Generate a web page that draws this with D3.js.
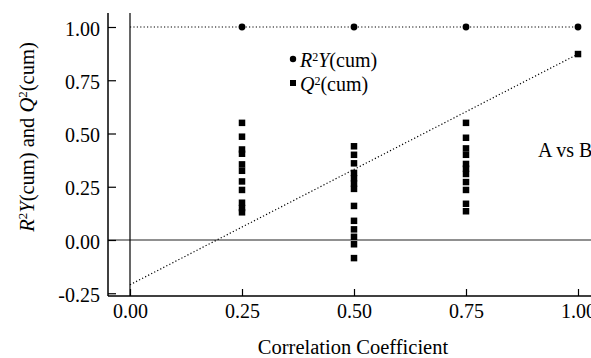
<!DOCTYPE html>
<html>
<head>
<meta charset="utf-8">
<script src="https://cdn.jsdelivr.net/npm/d3@7"></script>
<style>
  html, body { margin: 0; padding: 0; background: #fff; }
  svg { display: block; }
  text { font-family: "Liberation Serif", "Times New Roman", serif; fill: #000; }
</style>
</head>
<body>
<svg id="chart" width="591" height="358"></svg>
<script>
// Permutation test: R2Y(cum) and Q2(cum) against correlation coefficient
const r2yX = [0.25, 0.5, 0.75, 1.0];
const r2yY = [1.0, 1.0, 1.0, 1.0];

const q2Groups = [0.25, 0.5, 0.75, 1.0];
const q2Values = [
  [0.55, 0.485, 0.425, 0.405, 0.355, 0.325, 0.275, 0.235, 0.175, 0.15, 0.13],
  [0.44, 0.40, 0.36, 0.315, 0.29, 0.265, 0.24, 0.16, 0.09, 0.05, 0.015, -0.02, -0.085],
  [0.55, 0.48, 0.43, 0.40, 0.357, 0.335, 0.31, 0.272, 0.235, 0.17, 0.135],
  [0.873]
];

// Regression lines from the intercept (x = 0) to the original model (x = 1)
const r2yLine = [[0, 1.0], [1, 1.0]];
const q2Line = [[0, -0.21], [1, 0.873]];

const xTicks = [0, 0.25, 0.5, 0.75, 1.0];
const yTicks = [-0.25, 0, 0.25, 0.5, 0.75, 1.0];

const svg = d3.select("#chart");

const x = d3.scaleLinear().domain([0, 1]).range([130, 578]);
const y = d3.scaleLinear().domain([0, 1]).range([240, 27]);

const xLeft = x.invert(108), xRight = x.invert(600);
const yBottom = y.invert(296), yTop = y.invert(13);

// Tick labels use a plain hyphen for negatives
const fmt = v => d3.format(".2f")(v).replace("\u2212", "-");

// Reference lines at x = 0 and y = 0
svg.append("line")
  .attr("x1", x(xLeft)).attr("x2", x(xRight))
  .attr("y1", y(0)).attr("y2", y(0))
  .attr("stroke", "#222").attr("stroke-width", 1.2);
svg.append("line")
  .attr("x1", x(0)).attr("x2", x(0))
  .attr("y1", y(yTop)).attr("y2", y(yBottom))
  .attr("stroke", "#000").attr("stroke-width", 1.2);

// Axes with inward ticks
const yAxis = d3.axisLeft(y).tickValues(yTicks)
  .tickFormat(fmt).tickSizeInner(-8).tickSizeOuter(0).tickPadding(8);
const xAxis = d3.axisBottom(x).tickValues(xTicks)
  .tickFormat(fmt).tickSizeInner(-7).tickSizeOuter(0).tickPadding(8);

const gy = svg.append("g").attr("transform", "translate(108,0)").call(yAxis);
gy.select(".domain").attr("d", `M0,${y(yTop)}V${y(yBottom)}`);
const gx = svg.append("g").attr("transform", "translate(0,296)").call(xAxis);
gx.select(".domain").attr("d", `M${x(xLeft)},0H${x(xRight)}`);

[gx, gy].forEach(g => {
  g.select(".domain").attr("stroke", "#000").attr("stroke-width", 1.5);
  g.selectAll(".tick line").attr("stroke", "#000").attr("stroke-width", 1.2);
  g.selectAll(".tick text")
    .style("font-family", "'Liberation Serif', serif")
    .style("font-size", "20px").attr("fill", "#000");
});
gy.selectAll(".tick text").attr("dy", "0.4em");
gx.selectAll(".tick text").attr("dy", "0.68em");

// Dotted regression lines
const line = d3.line().x(d => x(d[0])).y(d => y(d[1]));
[r2yLine, q2Line].forEach(data => {
  svg.append("path").datum(data)
    .attr("d", line)
    .attr("fill", "none").attr("stroke", "#000")
    .attr("stroke-width", 1.2).attr("stroke-dasharray", "1.2,2.2");
});

// R2Y(cum) circles
svg.append("g").selectAll("circle")
  .data(r2yX.map((v, i) => [v, r2yY[i]]))
  .join("circle")
  .attr("cx", d => x(d[0])).attr("cy", d => y(d[1])).attr("r", 3.4)
  .attr("fill", "#000");

// Q2(cum) squares
const qs = 6.5;
const q2Points = q2Groups.flatMap((g, i) => q2Values[i].map(v => [g, v]));
svg.append("g").selectAll("rect")
  .data(q2Points)
  .join("rect")
  .attr("x", d => x(d[0]) - qs / 2).attr("y", d => y(d[1]) - qs / 2)
  .attr("width", qs).attr("height", qs)
  .attr("fill", "#000");

// Legend
const legend = svg.append("g");
legend.append("circle").attr("cx", 293).attr("cy", 59).attr("r", 3.2).attr("fill", "#000");
const l1 = legend.append("text").attr("x", 300).attr("y", 67).style("font-size", "20px");
l1.append("tspan").attr("font-style", "italic").text("R");
l1.append("tspan").attr("font-size", "12px").attr("baseline-shift", "6px").text("2");
l1.append("tspan").attr("font-style", "italic").text("Y");
l1.append("tspan").text("(cum)");

legend.append("rect").attr("x", 290).attr("y", 80).attr("width", 6).attr("height", 6).attr("fill", "#000");
const l2 = legend.append("text").attr("x", 300).attr("y", 91).style("font-size", "20px");
l2.append("tspan").attr("font-style", "italic").text("Q");
l2.append("tspan").attr("font-size", "12px").attr("baseline-shift", "6px").text("2");
l2.append("tspan").text("(cum)");

// Comparison label
svg.append("text").attr("x", 538).attr("y", 157)
  .style("font-size", "20px").text("A vs B");

// Axis titles
svg.append("text").attr("x", 353).attr("y", 354)
  .attr("text-anchor", "middle").style("font-size", "20.5px")
  .text("Correlation Coefficient");

const yl = svg.append("text")
  .attr("transform", "translate(34,137) rotate(-90)")
  .attr("text-anchor", "middle").style("font-size", "20.5px");
yl.append("tspan").attr("font-style", "italic").text("R");
yl.append("tspan").attr("font-size", "13px").attr("baseline-shift", "7px").text("2");
yl.append("tspan").attr("font-style", "italic").text("Y");
yl.append("tspan").text("(cum) and ");
yl.append("tspan").attr("font-style", "italic").text("Q");
yl.append("tspan").attr("font-size", "13px").attr("baseline-shift", "7px").text("2");
yl.append("tspan").text("(cum)");
</script>
</body>
</html>
